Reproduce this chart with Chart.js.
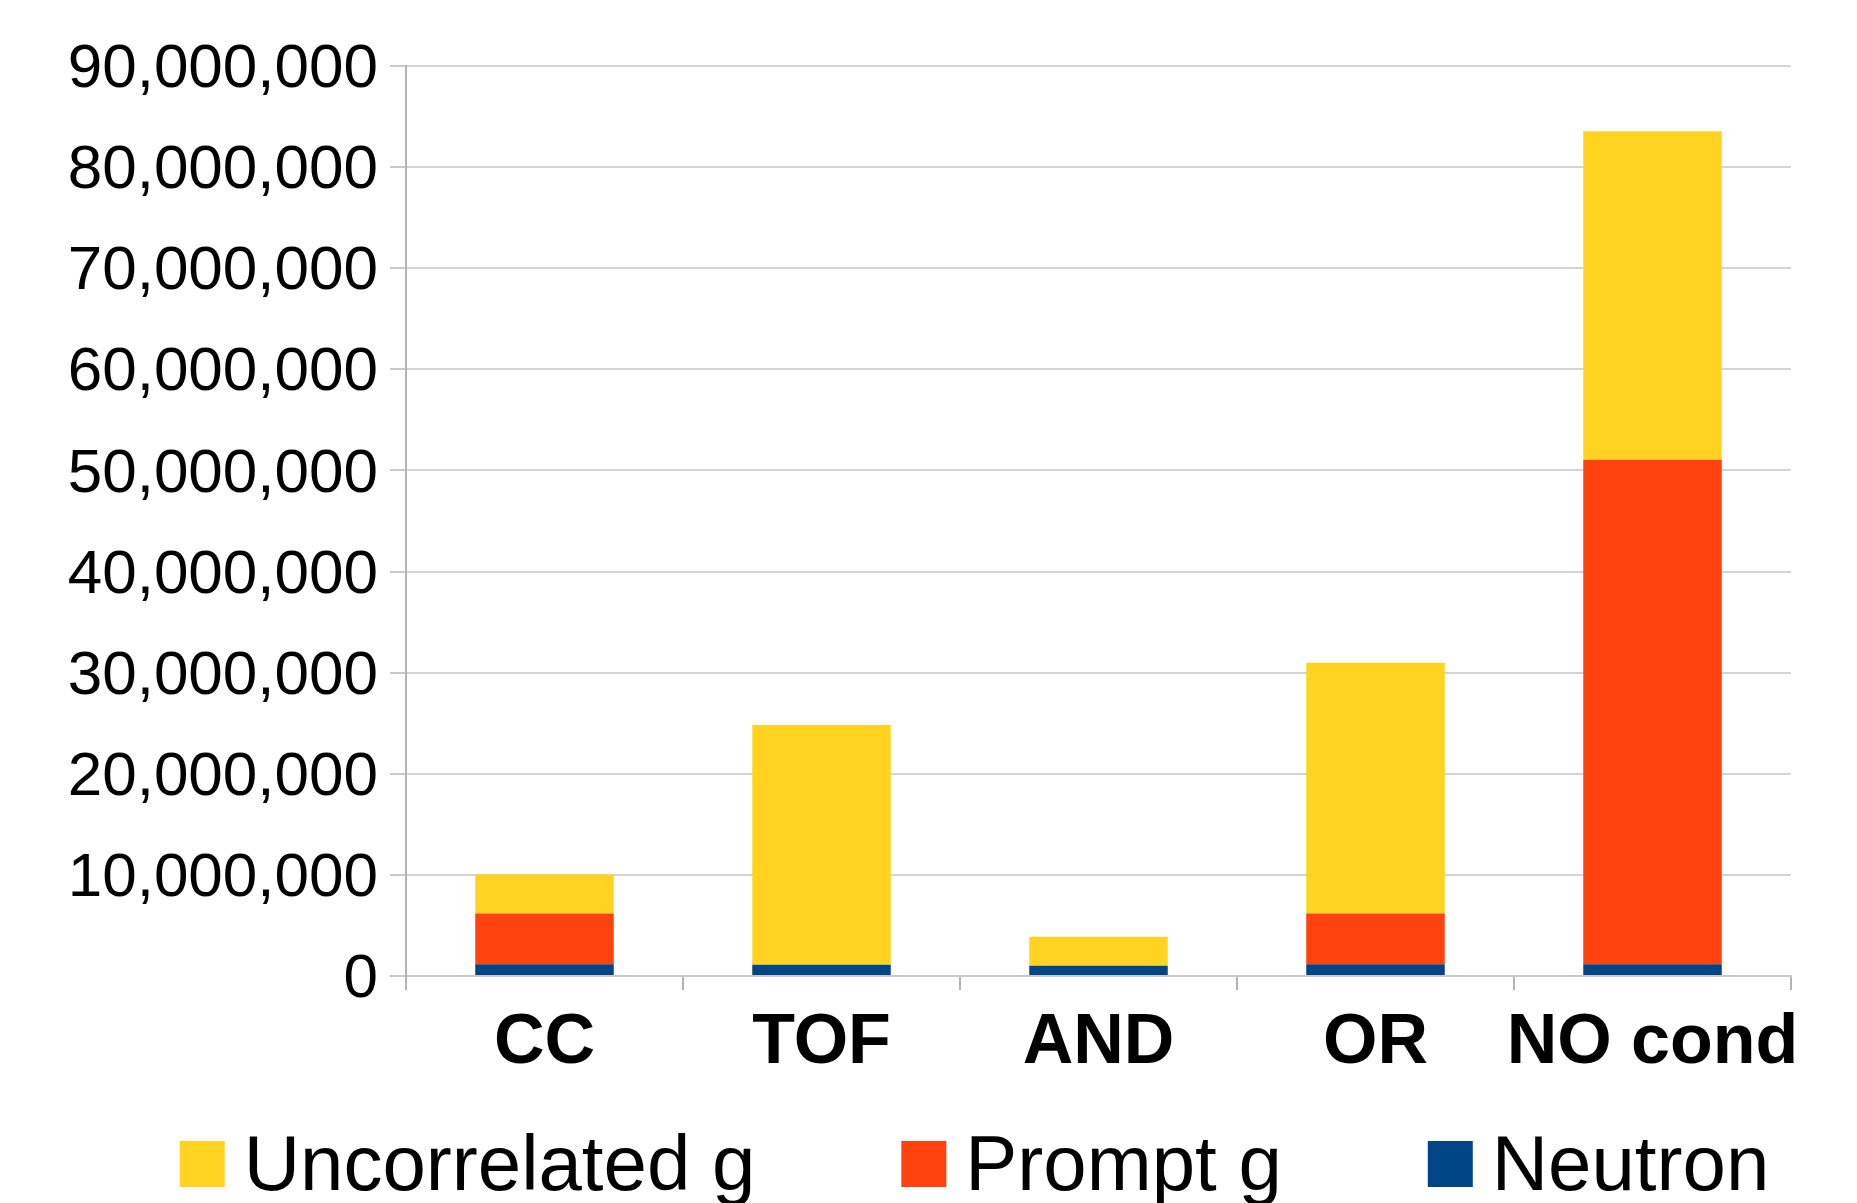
<!DOCTYPE html>
<html>
<head>
<meta charset="utf-8">
<script src="https://cdn.jsdelivr.net/npm/chart.js@4/dist/chart.umd.min.js"></script>
<style>
  html, body { margin: 0; padding: 0; background: #ffffff; }
  #wrap { width: 1857px; height: 1203px; position: relative; }
</style>
</head>
<body>
<div id="wrap"><canvas id="c" width="1857" height="1203"></canvas></div>
<script>
// ---- data ----
const categories = ['CC', 'TOF', 'AND', 'OR', 'NO cond'];
const seriesLabels = ['Uncorrelated g', 'Prompt g', 'Neutron'];
const uncorrelatedG = [3850000, 23700000, 2860000, 24800000, 32500000];
const promptG = [5030000, 0, 0, 5030000, 49900000];
const neutron = [1150000, 1120000, 1020000, 1150000, 1150000];
const yTickValues = [0, 10000000, 20000000, 30000000, 40000000, 50000000, 60000000, 70000000, 80000000, 90000000];

// ---- styles ----
const colors = { uncorr: '#FFD320', prompt: '#FF420E', neutron: '#004586' };
const FONT = '"Liberation Sans", Arial, sans-serif';

const legendPlugin = {
  id: 'bottomLegend',
  afterDraw(chart) {
    const ctx = chart.ctx;
    const order = [2, 1, 0];
    ctx.save();
    ctx.font = '78px ' + FONT;
    ctx.textBaseline = 'alphabetic';
    ctx.textAlign = 'left';
    const boxW = 45, boxH = 46, gapText = 19, gapItem = 146;
    const widths = order.map(i => ctx.measureText(chart.data.datasets[i].label).width);
    let total = 0;
    widths.forEach(w => { total += boxW + gapText + w; });
    total += gapItem * (order.length - 1);
    let x = chart.width / 2 + 46 - total / 2;
    const boxTop = chart.height - 62;
    const baseY = chart.height - 13;
    order.forEach((di, k) => {
      const ds = chart.data.datasets[di];
      ctx.fillStyle = ds.backgroundColor;
      ctx.fillRect(x, boxTop, boxW, boxH);
      x += boxW + gapText;
      ctx.fillStyle = '#000000';
      ctx.fillText(ds.label, x, baseY);
      x += widths[k] + gapItem;
    });
    ctx.restore();
  }
};

new Chart(document.getElementById('c'), {
  type: 'bar',
  data: {
    labels: categories,
    datasets: [
      { label: seriesLabels[2], data: neutron, backgroundColor: colors.neutron },
      { label: seriesLabels[1], data: promptG, backgroundColor: colors.prompt },
      { label: seriesLabels[0], data: uncorrelatedG, backgroundColor: colors.uncorr }
    ]
  },
  options: {
    responsive: false,
    animation: false,
    layout: { padding: { left: 0, right: 66, top: 66, bottom: 0 } },
    datasets: { bar: { barPercentage: 0.5, categoryPercentage: 1.0, borderWidth: 0 } },
    plugins: {
      legend: { display: false },
      tooltip: { enabled: false }
    },
    scales: {
      x: {
        stacked: true,
        offset: true,
        afterFit(scale) { scale.height = 227; },
        grid: {
          offset: true,
          drawOnChartArea: true,
          color: ctx => (ctx.index === categories.length ? '#b3b3b3' : 'rgba(0,0,0,0)'),
          tickColor: '#b3b3b3',
          tickLength: 14,
          lineWidth: 2
        },
        border: { display: true, color: '#c8c8c8', width: 2 },
        ticks: {
          color: '#000000',
          padding: 12,
          font: { family: FONT, size: 70, weight: 'bold' },
          maxRotation: 0,
          autoSkip: false
        }
      },
      y: {
        stacked: true,
        min: 0,
        max: 90000000,
        afterFit(scale) { scale.width = 406; },
        afterBuildTicks(scale) { scale.ticks = yTickValues.map(v => ({ value: v })); },
        grid: {
          color: '#d4d4d4',
          lineWidth: 2,
          tickLength: 16,
          tickColor: '#c8c8c8'
        },
        border: { display: true, color: '#b3b3b3', width: 2 },
        ticks: {
          color: '#000000',
          padding: 12,
          labelOffset: 4,
          font: { family: FONT, size: 62 },
          callback: v => Number(v).toLocaleString('en-US')
        }
      }
    }
  },
  plugins: [legendPlugin]
});
</script>
</body>
</html>
